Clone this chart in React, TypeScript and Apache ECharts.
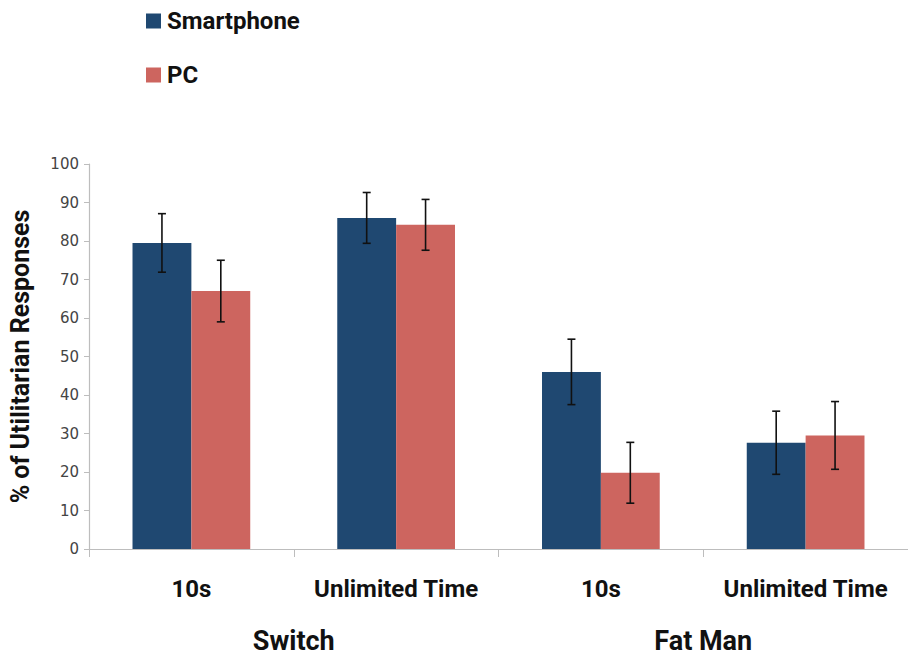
import React, { useEffect, useRef } from "react";
import * as echarts from "echarts";

const conditions = ["10s", "Unlimited Time", "10s", "Unlimited Time"];
const dilemmas = ["Switch", "Fat Man"];
const seriesNames = ["Smartphone", "PC"];
const smartphone = [79.5, 86, 46, 27.6];
const smartphoneErr = [7.6, 6.6, 8.5, 8.2];
const pc = [67, 84.2, 19.8, 29.5];
const pcErr = [8, 6.6, 7.9, 8.8];
const yTicks = [0, 10, 20, 30, 40, 50, 60, 70, 80, 90, 100];

const BLUE = "#1f4871";
const RED = "#cd655f";
const BOLD_FONT = "Roboto, 'Liberation Sans', sans-serif";
const BAR_CATEGORY_GAP = 0.425;

function errorSeries(name: string, values: number[], errs: number[], side: number) {
  return {
    type: "custom",
    name: name + " error",
    xAxisIndex: 0,
    yAxisIndex: 0,
    z: 5,
    silent: true,
    data: values.map((v, i) => [i, v - errs[i], v + errs[i]]),
    renderItem: (params: any, api: any) => {
      const idx = api.value(0);
      const low = api.coord([idx, api.value(1)]);
      const high = api.coord([idx, api.value(2)]);
      const band = api.size([1, 0])[0];
      const barW = (band * (1 - BAR_CATEGORY_GAP)) / 2;
      const x = low[0] + (side * barW) / 2;
      const cap = 4;
      const style = { stroke: "#111", lineWidth: 1.6 };
      return {
        type: "group",
        children: [
          { type: "line", shape: { x1: x, y1: high[1], x2: x, y2: low[1] }, style },
          { type: "line", shape: { x1: x - cap, y1: high[1], x2: x + cap, y2: high[1] }, style },
          { type: "line", shape: { x1: x - cap, y1: low[1], x2: x + cap, y2: low[1] }, style },
        ],
      };
    },
  };
}

export default function App() {
  const ref = useRef<HTMLDivElement>(null);

  useEffect(() => {
    if (!ref.current) return;
    const chart = echarts.init(ref.current, null, { renderer: "svg" });
    chart.setOption({
      animation: false,
      backgroundColor: "#ffffff",
      legend: {
        orient: "vertical",
        left: 141,
        top: 4,
        itemWidth: 15,
        itemHeight: 15,
        itemGap: 30,
        icon: "rect",
        data: seriesNames,
        textStyle: {
          fontFamily: BOLD_FONT,
          fontWeight: "bold",
          fontSize: 24,
          color: "#111",
          padding: [0, 0, 0, 1],
        },
      },
      grid: { left: 88, top: 164, width: 828, height: 385, containLabel: false },
      xAxis: [
        {
          type: "category",
          data: conditions,
          axisLine: { lineStyle: { color: "#bdbdbd", width: 1.2 } },
          axisTick: { show: true, interval: 0, length: 8, lineStyle: { color: "#bdbdbd" } },
          axisLabel: {
            interval: 0,
            margin: 28,
            fontFamily: BOLD_FONT,
            fontWeight: "bold",
            fontSize: 24,
            color: "#111",
          },
        },
        {
          type: "category",
          data: dilemmas,
          position: "bottom",
          offset: 0,
          axisLine: { show: false },
          axisTick: { show: false },
          axisLabel: {
            interval: 0,
            margin: 78,
            fontFamily: BOLD_FONT,
            fontWeight: "bold",
            fontSize: 27,
            color: "#111",
          },
        },
      ],
      yAxis: {
        type: "value",
        min: yTicks[0],
        max: yTicks[yTicks.length - 1],
        interval: 10,
        name: "% of Utilitarian Responses",
        nameLocation: "middle",
        nameGap: 56,
        nameTextStyle: {
          fontFamily: BOLD_FONT,
          fontWeight: "bold",
          fontSize: 25,
          color: "#111",
        },
        axisLine: { show: true, lineStyle: { color: "#bdbdbd", width: 1.2 } },
        axisTick: { show: true, length: 5, lineStyle: { color: "#bdbdbd" } },
        splitLine: { show: false },
        axisLabel: {
          margin: 10,
          fontFamily: "'DejaVu Sans', sans-serif",
          fontSize: 15,
          color: "#444",
        },
      },
      series: [
        {
          type: "bar",
          name: seriesNames[0],
          data: smartphone,
          itemStyle: { color: BLUE },
          barGap: "0%",
          barCategoryGap: BAR_CATEGORY_GAP * 100 + "%",
        },
        {
          type: "bar",
          name: seriesNames[1],
          data: pc,
          itemStyle: { color: RED },
          barGap: "0%",
          barCategoryGap: BAR_CATEGORY_GAP * 100 + "%",
        },
        errorSeries(seriesNames[0], smartphone, smartphoneErr, -1),
        errorSeries(seriesNames[1], pc, pcErr, 1),
      ],
    });
    return () => chart.dispose();
  }, []);

  return <div ref={ref} style={{ width: 908, height: 662, position: "fixed", left: 0, top: 0 }} />;
}
